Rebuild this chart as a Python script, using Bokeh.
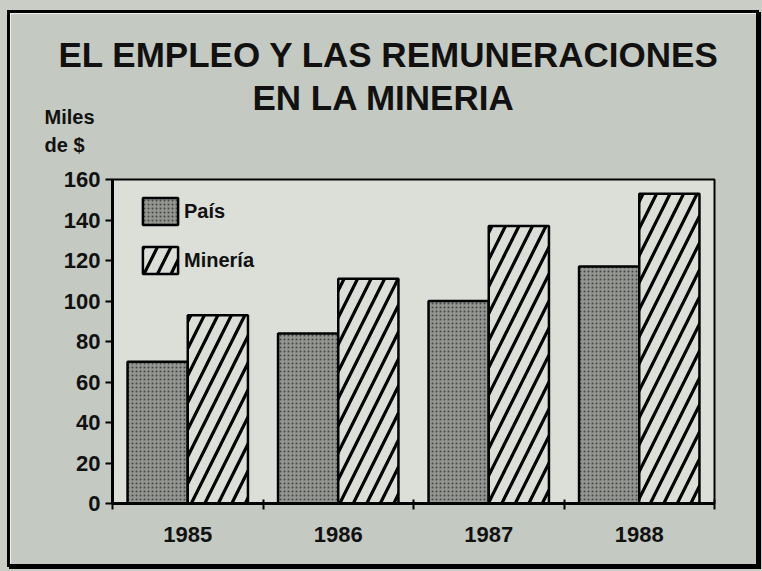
from bokeh.plotting import figure
from bokeh.models import FixedTicker, Range1d, Legend, LegendItem, Title
from bokeh.embed import file_html
from bokeh.resources import INLINE

years = ["1985", "1986", "1987", "1988"]
pais = [70, 84, 100, 117]
mineria = [93, 111, 137, 153]
y_ticks = [0, 20, 40, 60, 80, 100, 120, 140, 160]
title_lines = ["EL EMPLEO Y LAS REMUNERACIONES", "EN LA MINERIA"]
y_label_lines = ["Miles", "de $"]
series_names = ["País", "Minería"]

FONT = "Liberation Sans"
OUTER = "#c4c9c1"
INNER = "#dbdfd8"
INK = "#111111"

idx = list(range(len(years)))
x_pais = [i + 0.3 for i in idx]
x_min = [i + 0.7 for i in idx]

p = figure(width=746, height=551, output_backend="svg", toolbar_location=None,
           x_range=Range1d(0, len(years)), y_range=Range1d(0, y_ticks[-1]),
           min_border_left=102, min_border_right=42,
           min_border_top=166, min_border_bottom=61)
p.styles = {"margin-left": "10px", "margin-top": "13px",
            "box-shadow": "0 0 0 3px #000000, 2px 2px 0 3px #000000, 0 0 0 40px #c9cdc5"}

p.background_fill_color = INNER
p.border_fill_color = OUTER
p.outline_line_color = "black"
p.outline_line_width = 2
p.grid.visible = False

r1 = p.vbar(x=x_pais, top=pais, width=0.4, bottom=0,
            fill_color="#939591", line_color="black", line_width=2.5,
            hatch_pattern="dot", hatch_color="#454743", hatch_weight=1.6, hatch_scale=4)
r2 = p.vbar(x=x_min, top=mineria, width=0.4, bottom=0,
            fill_color=INNER, line_color="black", line_width=2.5,
            hatch_pattern="/", hatch_color="black", hatch_weight=3.2, hatch_scale=27)

# x axis
xa = p.xaxis[0]
xa.ticker = FixedTicker(ticks=[i + 0.5 for i in idx], minor_ticks=list(range(len(years) + 1)))
xa.major_label_overrides = {i + 0.5: y for i, y in zip(idx, years)}
xa.major_tick_in = 0
xa.major_tick_out = 0
xa.minor_tick_in = 4
xa.minor_tick_out = 6
xa.minor_tick_line_width = 2
xa.minor_tick_line_color = "black"
xa.major_label_standoff = 17
xa.axis_line_width = 3
xa.axis_line_color = "black"

# y axis
ya = p.yaxis[0]
ya.ticker = FixedTicker(ticks=y_ticks, minor_ticks=[])
ya.major_tick_in = 0
ya.major_tick_out = 7
ya.major_tick_line_width = 2
ya.major_tick_line_color = "black"
ya.major_label_standoff = 5
ya.axis_line_width = 3
ya.axis_line_color = "black"

for ax in (xa, ya):
    ax.major_label_text_font = FONT
    ax.major_label_text_font_style = "bold"
    ax.major_label_text_font_size = "22px"
    ax.major_label_text_color = INK

# stacked header panels, from the frame outward
p.add_layout(Title(text="\n".join(y_label_lines), align="left", offset=-68,
                   standoff=47, text_line_height=1.27,
                   text_font=FONT, text_font_style="bold", text_font_size="20px",
                   text_color=INK), "above")
p.add_layout(Title(text="\n" + title_lines[1], align="left", offset=140,
                   standoff=-73, text_line_height=1.0,
                   text_font=FONT, text_font_style="bold", text_font_size="35px",
                   text_color=INK), "above")
p.add_layout(Title(text=title_lines[0], align="left", offset=-54,
                   standoff=0,
                   text_font=FONT, text_font_style="bold", text_font_size="35px",
                   text_color=INK), "above")

legend = Legend(items=[LegendItem(label=series_names[0], renderers=[r1]),
                       LegendItem(label=series_names[1], renderers=[r2])],
                location=(26, 226), padding=0, spacing=15,
                glyph_width=44, glyph_height=34, label_standoff=2,
                background_fill_alpha=0, border_line_alpha=0,
                label_text_font=FONT, label_text_font_style="bold",
                label_text_font_size="20px", label_text_color=INK)
p.add_layout(legend)

open("out.html", "w").write(file_html(p, INLINE))
